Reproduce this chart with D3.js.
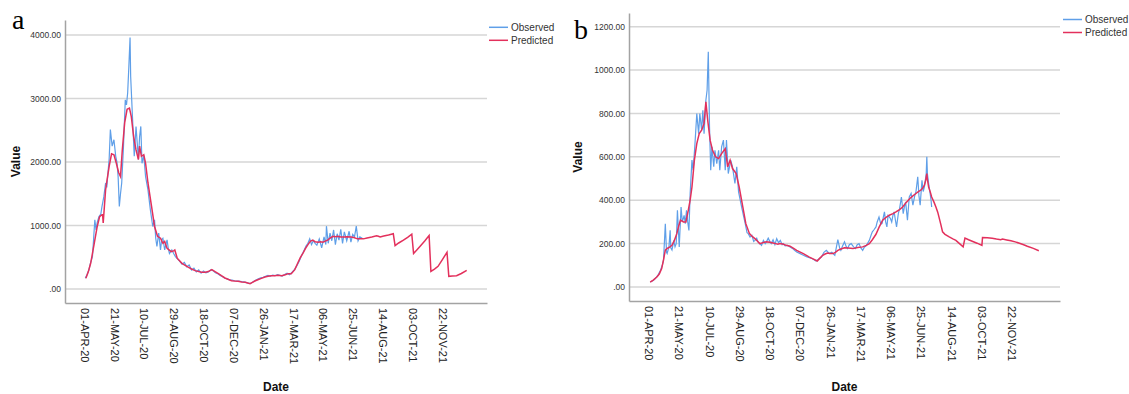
<!DOCTYPE html>
<html>
<head>
<meta charset="utf-8">
<script src="https://cdnjs.cloudflare.com/ajax/libs/d3/7.8.5/d3.min.js"></script>
<style>
body{margin:0;background:#fff;}
svg{display:block;font-family:'Liberation Sans',Arial,sans-serif;}
</style>
</head>
<body>
<svg></svg>
<script>
//all the data of the two charts, days are counted from 01-APR-20
var startDate = new Date(2020,3,1);
var xTickLabels = ['01-APR-20','21-MAY-20','10-JUL-20','29-AUG-20','18-OCT-20','07-DEC-20','26-JAN-21',
	'17-MAR-21','06-MAY-21','25-JUN-21','14-AUG-21','03-OCT-21','22-NOV-21'];
var yTicksA = [0,1000,2000,3000,4000];
var yTicksB = [0,200,400,600,800,1000,1200];
var seriesNames = ['Observed','Predicted'];

var obsA = [[2,170],[5,230],[8,300],[11,420],[14,510],[16,800],[18,1090],[20,930],[22,1050],[25,1140],[28,1180],[30,1300],
	[33,1450],[36,1670],[38,1600],[40,1830],[42,2050],[44,2510],[47,2250],[50,2350],[53,2090],[55,2000],[57,1770],[59,1300],
	[61,1500],[63,1670],[66,2250],[69,2980],[71,2900],[73,3090],[75,3510],[77,3960],[78,3350],[81,2720],[84,2090],[87,2560],
	[89,2300],[91,2040],[93,2400],[95,2560],[97,1980],[100,2100],[103,1770],[107,1560],[111,1250],[115,985],[118,1090],
	[120,800],[122,670],[125,880],[128,615],[130,780],[132,800],[135,615],[137,700],[139,775],[141,640],[143,560],[147,615],
	[150,560],[153,510],[156,480],[158,460],[160,440],[164,390],[168,420],[172,350],[176,380],[180,300],[184,330],[188,270],
	[192,300],[196,250],[200,285],[204,255],[208,270],[212,300],[216,290],[220,255],[224,240],[228,215],[232,195],[236,170],
	[240,160],[244,145],[248,140],[252,130],[256,125],[260,125],[264,118],[268,112],[272,100],[276,88],[280,95],[284,118],
	[288,140],[292,160],[296,175],[300,185],[304,200],[308,215],[312,205],[316,220],[320,210],[324,225],[328,215],[332,205],
	[336,230],[340,250],[344,225],[348,260],[352,300],[356,360],[360,430],[364,520],[368,600],[372,680],[375,720],[378,790],
	[381,700],[384,760],[387,720],[390,690],[394,790],[398,650],[402,820],[405,700],[406,990],[409,720],[412,880],[415,760],
	[418,930],[421,700],[424,870],[427,770],[430,940],[433,720],[436,900],[440,760],[444,910],[447,740],[450,860],[453,820],
	[456,990],[459,760],[462,820],[466,800]];

var predA = [[3,170],[7,270],[11,405],[14,560],[17,720],[20,880],[22,985],[26,1140],[30,1170],[31,1170],[32,1040],[34,1300],
	[36,1560],[39,1750],[42,1930],[46,2130],[50,2115],[54,1980],[58,1830],[61,1770],[64,2190],[68,2620],[72,2830],[76,2850],
	[79,2720],[83,2400],[87,2190],[91,2040],[93,2250],[96,2090],[100,2115],[103,1980],[107,1670],[113,1300],[118,985],
	[123,830],[128,800],[132,720],[135,750],[139,640],[146,590],[150,600],[152,615],[156,485],[164,405],[170,370],[175,340],
	[180,315],[186,290],[192,275],[197,265],[203,263],[208,275],[214,305],[220,270],[225,242],[230,210],[236,174],[242,150],
	[247,132],[252,126],[258,121],[264,112],[270,105],[278,84],[282,105],[286,126],[292,150],[297,168],[303,190],[308,200],
	[314,208],[319,210],[325,215],[331,210],[337,225],[342,242],[347,242],[353,305],[358,410],[362,490],[367,570],[371,640],
	[375,700],[379,750],[383,770],[387,745],[392,737],[396,745],[400,737],[404,755],[408,770],[412,800],[417,830],[421,825],
	[425,830],[430,820],[436,820],[441,825],[447,820],[452,810],[458,790],[468,790],[474,805],[482,820],[490,840],[493,830],
	[496,820],[502,835],[510,850],[518,870],[521,684],[527,725],[535,770],[542,815],[549,863],[552,558],[557,610],[563,674],
	[571,760],[578,842],[581,279],[587,315],[593,358],[600,460],[608,579],[611,200],[617,205],[624,210],[632,245],[641,295]];

var obsB = [[3,23],[8,30],[11,38],[16,55],[20,77],[23,100],[25,123],[28,292],[30,160],[31,154],[34,185],[36,261],[37,180],
	[39,170],[42,215],[44,185],[46,200],[48,354],[51,185],[54,369],[56,300],[57,308],[59,330],[61,292],[63,354],[65,300],
	[67,261],[69,430],[72,585],[74,538],[77,661],[80,800],[83,707],[85,800],[88,723],[90,815],[92,707],[95,861],[97,907],
	[99,1084],[101,738],[103,538],[105,646],[108,554],[110,630],[113,569],[116,630],[118,538],[121,646],[124,677],[127,538],
	[129,677],[132,523],[136,585],[139,554],[143,477],[146,554],[149,438],[154,369],[157,330],[160,292],[163,250],[165,246],
	[168,230],[171,238],[174,210],[176,215],[179,225],[181,208],[184,200],[187,192],[190,215],[193,200],[195,208],[198,225],
	[201,208],[203,200],[206,218],[209,195],[212,223],[215,205],[218,215],[221,195],[223,200],[226,190],[230,192],[234,185],
	[238,178],[242,168],[245,161],[250,155],[256,146],[261,140],[266,135],[271,130],[277,120],[281,128],[286,138],[290,160],
	[294,169],[299,154],[303,160],[308,146],[313,218],[316,180],[318,169],[321,190],[324,208],[327,185],[329,177],[332,195],
	[335,200],[339,185],[342,177],[345,195],[348,200],[351,180],[354,169],[357,185],[359,188],[362,200],[365,215],[368,240],
	[370,254],[373,265],[376,277],[378,300],[381,323],[384,290],[386,292],[388,320],[390,346],[392,300],[394,277],[396,330],
	[398,323],[400,315],[402,300],[404,330],[406,346],[408,310],[410,277],[413,340],[415,361],[418,415],[421,338],[423,370],
	[425,392],[428,308],[431,415],[434,431],[437,377],[440,420],[442,438],[445,508],[447,420],[449,377],[452,492],[454,440],
	[456,461],[459,523],[460,600],[461,520],[463,477],[465,440],[467,400],[468,369]];

var predB = [[3,23],[8,32],[14,46],[18,60],[22,85],[25,125],[28,170],[31,178],[34,182],[39,192],[43,215],[47,246],[50,280],
	[53,308],[58,300],[62,300],[66,354],[69,400],[72,461],[76,585],[80,661],[84,707],[88,723],[92,754],[95,854],[98,769],
	[102,677],[106,630],[111,600],[116,592],[121,615],[127,638],[131,554],[135,585],[139,546],[145,523],[150,461],[156,369],
	[161,292],[167,246],[172,232],[176,223],[180,212],[184,200],[190,205],[195,208],[201,206],[206,203],[210,200],[214,197],
	[217,200],[222,198],[228,192],[234,188],[240,178],[245,169],[250,162],[256,154],[261,146],[266,138],[272,130],[279,120],
	[283,132],[288,146],[292,152],[296,157],[300,155],[305,154],[309,160],[313,169],[318,175],[324,181],[330,180],[338,177],
	[346,182],[354,185],[360,192],[365,200],[370,218],[376,243],[381,275],[387,308],[392,320],[398,331],[404,338],[409,346],
	[415,357],[420,369],[426,390],[432,408],[437,420],[442,431],[446,440],[450,446],[453,455],[456,469],[458,490],[460,523],
	[461,495],[463,461],[466,435],[468,415],[472,390],[475,369],[478,345],[480,323],[483,290],[486,254],[490,243],[497,231],
	[503,222],[508,215],[514,200],[520,185],[523,226],[529,218],[535,211],[543,202],[551,192],[552,228],[560,227],[568,225],
	[575,221],[582,218],[585,221],[592,217],[599,213],[606,208],[613,202],[620,195],[626,188],[636,178],[645,167]];

/*********layout************/
var width = 1129;
var height = 394;
var colors = {obs:'#5f9fe8',pred:'#e3305c',grid:'#d6d6d6',axis:'#a3a3a3',text:'#333'};
var svg = d3.select('svg')
	.attr('width',width)
	.attr('height',height);
var parseT = d3.timeParse('%d-%b-%y');
var tickDates = xTickLabels.map(function(s){return parseT(s);});
var toDate = function(d){return d3.timeDay.offset(startDate,d);};

//one config per panel: only positions here, values come from the arrays above
var panels = [
	{tag:'a',tagX:12,tagY:29,left:65,right:487,top:20,bottom:303,days:[-32,675],yDom:[-220,4236],
		yTicks:yTicksA,obs:obsA,pred:predA,legX:489,legY:27.3,valueX:20},
	{tag:'b',tagX:574,tagY:39,left:629,right:1060,top:13,bottom:301,days:[-31.5,680],yDom:[-64.5,1263],
		yTicks:yTicksB,obs:obsB,pred:predB,legX:1063,legY:19.5,valueX:582}
];

panels.forEach(function(p){
	var g = svg.append('g');
	var xScale = d3.scaleTime()
		.domain([toDate(p.days[0]),toDate(p.days[1])])
		.range([p.left,p.right]);
	var yScale = d3.scaleLinear()
		.domain(p.yDom)
		.range([p.bottom,p.top]);

	//grid lines
	g.append('g').selectAll('line')
		.data(p.yTicks).enter().append('line')
		.attr('x1',p.left).attr('x2',p.right)
		.attr('y1',function(d){return yScale(d);})
		.attr('y2',function(d){return yScale(d);})
		.attr('stroke',colors.grid).attr('stroke-width',1.5);

	//y axis
	var axisY = d3.axisLeft(yScale)
		.tickValues(p.yTicks)
		.tickSize(0).tickPadding(4)
		.tickFormat(function(d){return d===0?'.00':d.toFixed(2);});
	var axisYG = g.append('g')
		.attr('transform','translate('+p.left+',0)')
		.call(axisY);
	axisYG.select('.domain').attr('stroke',colors.axis).attr('stroke-width',1.5);
	axisYG.selectAll('text').attr('font-size','8.5px').attr('fill',colors.text).attr('font-family',null);

	//x axis
	var axisX = d3.axisBottom(xScale)
		.tickValues(tickDates)
		.tickSize(0)
		.tickFormat(function(d,i){return xTickLabels[i];});
	var axisXG = g.append('g')
		.attr('transform','translate(0,'+p.bottom+')')
		.call(axisX);
	axisXG.select('.domain').attr('stroke',colors.axis).attr('stroke-width',1.5);
	axisXG.selectAll('text')
		.attr('font-size','11px').attr('fill','#222').attr('font-family',null)
		.attr('text-anchor','start')
		.attr('transform','rotate(90)')
		.attr('x',5).attr('y',0).attr('dy','0.35em');

	//series
	var line = d3.line()
		.x(function(d){return xScale(toDate(d[0]));})
		.y(function(d){return yScale(d[1]);});
	g.append('path').datum(p.obs)
		.attr('d',line).attr('fill','none')
		.attr('stroke',colors.obs).attr('stroke-width',1.2);
	g.append('path').datum(p.pred)
		.attr('d',line).attr('fill','none')
		.attr('stroke',colors.pred).attr('stroke-width',1.5);

	//titles
	g.append('text')
		.attr('x',(p.left+p.right)/2).attr('y',391)
		.attr('text-anchor','middle')
		.attr('font-size','12px').attr('font-weight','bold').attr('fill','#111')
		.text('Date');
	g.append('text')
		.attr('transform','translate('+p.valueX+','+((p.top+p.bottom)/2)+') rotate(-90)')
		.attr('text-anchor','middle')
		.attr('font-size','12px').attr('font-weight','bold').attr('fill','#111')
		.text('Value');
	g.append('text')
		.attr('x',p.tagX).attr('y',p.tagY)
		.attr('font-family','"Liberation Serif","Times New Roman",serif')
		.attr('font-size','28px').attr('fill','#000')
		.text(p.tag);

	//legend
	var leg = g.append('g').selectAll('g')
		.data(seriesNames).enter().append('g')
		.attr('transform',function(d,i){return 'translate('+p.legX+','+(p.legY+i*13)+')';});
	leg.append('line')
		.attr('x1',0).attr('x2',19)
		.attr('stroke',function(d,i){return i===0?colors.obs:colors.pred;})
		.attr('stroke-width',1.5);
	leg.append('text')
		.attr('x',22).attr('y',3.5)
		.attr('font-size','10px').attr('fill',colors.text)
		.text(function(d){return d;});
});
</script>
</body>
</html>
